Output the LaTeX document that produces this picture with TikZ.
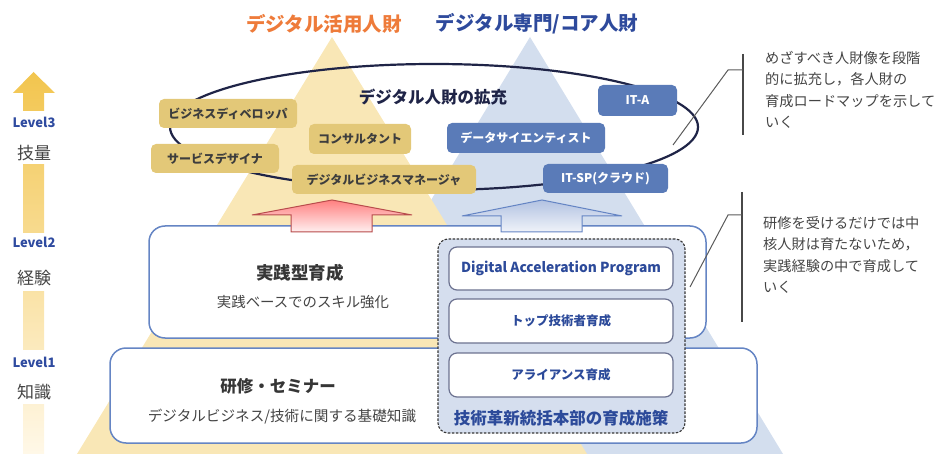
\documentclass[tikz,border=0pt]{standalone}
\usepackage{fontspec}
\setmainfont{Noto Sans CJK JP}
\usetikzlibrary{shapes.geometric}
\definecolor{triY}{HTML}{F9E7B6}
\definecolor{triB}{HTML}{D3DEEE}
\definecolor{boxY}{HTML}{E3C878}
\definecolor{boxB}{HTML}{5A7BB8}
\definecolor{ellC}{HTML}{1F2447}
\definecolor{outB}{HTML}{6585C4}
\definecolor{titO}{HTML}{EE7B3A}
\definecolor{titB}{HTML}{2E4A9C}
\definecolor{lvB}{HTML}{2F4BA0}
\definecolor{txtG}{HTML}{444444}
\definecolor{dashF}{HTML}{D5DEEE}
\definecolor{innO}{HTML}{6C7290}
\definecolor{innT}{HTML}{2C4A9A}
\definecolor{annL}{HTML}{5A5A5A}
\definecolor{arTop}{HTML}{F2C54E}
\definecolor{arBot}{HTML}{FFF8E8}
\tikzset{
  ybox/.style={draw=none, fill=boxY, rounded corners=5pt, inner sep=0pt, font=\fontsize{12}{14}\selectfont\bfseries, text=txtG!90!black},
  bbox/.style={draw=none, fill=boxB, rounded corners=5pt, inner sep=0pt, font=\fontsize{12}{14}\selectfont\bfseries, text=white},
  bigbox/.style={draw=outB, line width=1.5pt, fill=white, rounded corners=16pt},
  innbox/.style={draw=innO, line width=1.2pt, fill=white, rounded corners=8pt, minimum width=224pt, inner sep=0pt, font=\fontsize{12.5}{14}\selectfont\bfseries, text=innT},
  lvl/.style={font=\fontsize{13}{15}\selectfont\bfseries, text=lvB, inner sep=0pt},
  lvw/.style={font=\fontsize{17}{19}\selectfont, text=txtG, inner sep=0pt},
  ann/.style={font=\fontsize{14.2}{21.5}\selectfont, text=txtG, align=left, inner sep=0pt, anchor=north west},
  annline/.style={draw=annL, line width=1pt},
  vline/.style={draw=annL!80!black, line width=1.8pt}
}
\begin{document}
\begin{tikzpicture}[x=1pt,y=-1pt]
\useasboundingbox (0,0) rectangle (936,454);
% triangles
\fill[triB] (530,37) -- (783,454) -- (277,454) -- cycle;
\fill[triY] (332,37) -- (587,454) -- (77,454) -- cycle;
% left arrow
\shade[top color=arTop, bottom color=arBot]
  (23,454) -- (23,93) -- (13,93) -- (33.5,72) -- (55,93) -- (44,93) -- (44,454) -- cycle;
\fill[white] (8,111) rectangle (62,164);
\fill[white] (8,233) rectangle (62,291);
\fill[white] (8,350) rectangle (62,404);
\node[lvl] (l3) at (34,122) {Level3};
\node[lvw] (w3) at (34,153) {技量};
\node[lvl] (l2) at (34,242) {Level2};
\node[lvw] (w2) at (34,278) {経験};
\node[lvl] (l1) at (34,362) {Level1};
\node[lvw] (w1) at (34,392) {知識};
% titles
\node[font=\fontsize{19.5}{22}\selectfont\bfseries, text=titO] (t1) at (324,24) {デジタル活用人財};
\node[font=\fontsize{19.5}{22}\selectfont\bfseries, text=titB] (t2) at (537,24) {デジタル専門/コア人財};
% ellipse
\node[draw=ellC, line width=2.2pt, ellipse, minimum width=528pt, minimum height=126pt, inner sep=0pt] (ell) at (434,127) {};
\node[font=\fontsize{16.5}{18}\selectfont\bfseries, text=ellC] (etitle) at (433,97) {デジタル人財の拡充};
% role boxes
\node[ybox, minimum width=138pt, minimum height=29pt] (bd) at (228,113.5) {ビジネスディベロッパ};
\node[ybox, minimum width=102pt, minimum height=30pt] (cs) at (360,139) {コンサルタント};
\node[ybox, minimum width=128pt, minimum height=29pt] (sd) at (215,158.5) {サービスデザイナ};
\node[ybox, minimum width=184pt, minimum height=29pt] (dbm) at (384,179.5) {デジタルビジネスマネージャ};
\node[bbox, minimum width=158pt, minimum height=30pt] (ds) at (526,138) {データサイエンティスト};
\node[bbox, minimum width=79pt, minimum height=31pt] (ita) at (637.5,100.5) {IT-A};
\node[bbox, minimum width=125pt, minimum height=29pt] (itsp) at (605.5,178.5) {IT-SP(クラウド)};
% big boxes
\node[bigbox, minimum width=557pt, minimum height=112pt] (mid) at (427.5,282) {};
\node[bigbox, minimum width=647pt, minimum height=95pt] (bot) at (433.5,395.5) {};
% up arrows
\shade[top color=red!50!white, bottom color=red!6!white, draw=red!60!black!70!white, line width=1pt]
  (291,232) -- (291,215) -- (252,215) -- (332,200) -- (412,215) -- (372,215) -- (372,232) -- cycle;
\shade[top color=outB!50!white, bottom color=outB!10!white, draw=outB, line width=1pt]
  (501,232) -- (501,216) -- (462,216) -- (542,200) -- (622,216) -- (582,216) -- (582,232) -- cycle;
% texts in big boxes
\node[font=\fontsize{17.5}{19}\selectfont\bfseries, text=txtG!80!black] (midT) at (300,273) {実践型育成};
\node[font=\fontsize{14.4}{16}\selectfont, text=txtG] (midS) at (303,302) {実践ベースでのスキル強化};
\node[font=\fontsize{16.5}{18}\selectfont\bfseries, text=txtG!80!black] (botT) at (278,386) {研修・セミナー};
\node[font=\fontsize{14.6}{16}\selectfont, text=txtG] (botS) at (282,417) {デジタルビジネス/技術に関する基礎知識};
% dashed panel
\node[draw=txtG!80!black, dashed, dash pattern=on 2.5pt off 1.5pt, line width=1.1pt, fill=dashF, rounded corners=10pt, minimum width=247pt, minimum height=194pt, inner sep=0pt] (panel) at (561.5,336) {};
\node[innbox, minimum height=43pt, font=\fontsize{13.8}{15}\selectfont\bfseries] (dap) at (561,268.5) {Digital Acceleration Program};
\node[innbox, minimum height=44pt] (top) at (561,321) {トップ技術者育成};
\node[innbox, minimum height=44pt] (ali) at (561,375) {アライアンス育成};
\node[font=\fontsize{16.5}{18}\selectfont\bfseries, text=innT] (panT) at (561,418) {技術革新統括本部の育成施策};
% annotations
\coordinate (a1t) at (743,54);
\coordinate (a1b) at (743,135);
\coordinate (a1h) at (743,70);
\coordinate (a1k) at (728,70);
\coordinate (a1e) at (673,145);
\draw[vline] (a1t) -- (a1b);
\draw[annline] (a1h) -- (a1k) -- (a1e);
\node[ann] (ann1) at (765,51) {めざすべき人財像を段階\\的に拡充し，各人財の\\育成ロードマップを示して\\いく};
\coordinate (a2t) at (742,192);
\coordinate (a2b) at (742,322);
\coordinate (a2h) at (742,215);
\coordinate (a2k) at (728,215);
\coordinate (a2e) at (690,287);
\draw[vline] (a2t) -- (a2b);
\draw[annline] (a2h) -- (a2k) -- (a2e);
\node[ann] (ann2) at (763,216) {研修を受けるだけでは中\\核人財は育たないため，\\実践経験の中で育成して\\いく};
\end{tikzpicture}
\end{document}
